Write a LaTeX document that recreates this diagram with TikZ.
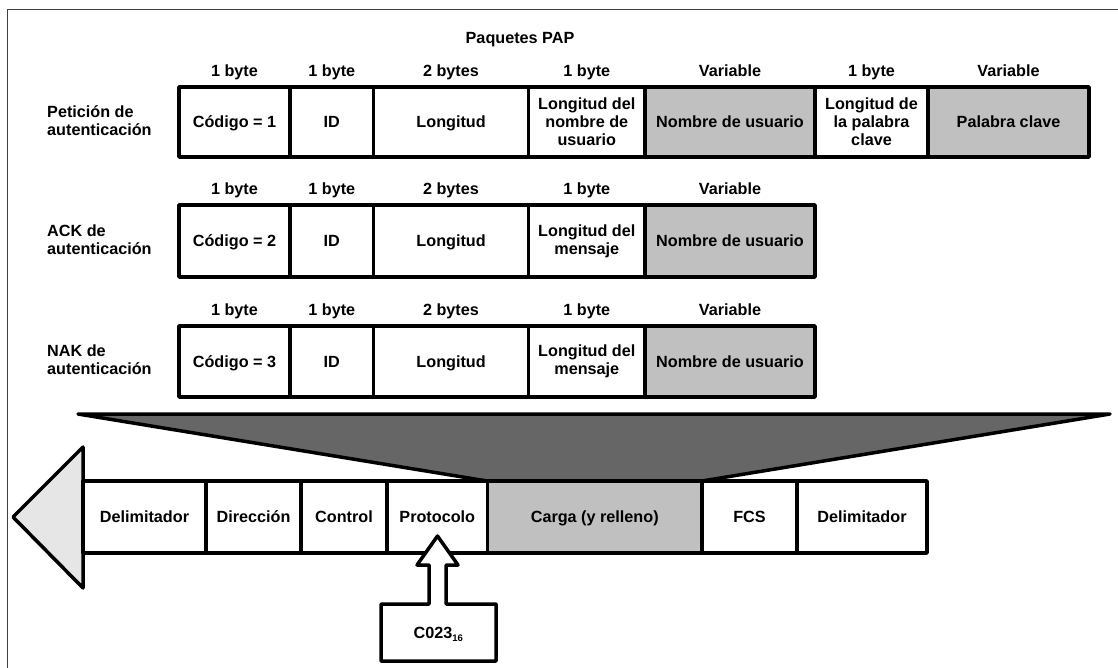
\documentclass[tikz,border=0pt]{standalone}
\usepackage{fontspec}
\setmainfont{Liberation Sans}
\begin{document}
\begin{tikzpicture}[x=1pt,y=-1pt,
  every node/.style={font=\fontsize{16.2}{18}\selectfont\bfseries},
  fieldbox/.style={draw=black,line width=3.5pt,fill=white,inner sep=0pt,align=center,line join=round},
  oneline/.style={text height=11.6pt,text depth=0pt},
  varfield/.style={fieldbox,fill=payload},
  lbl/.style={inner sep=0pt,oneline},
  rowlbl/.style={anchor=west,align=left,inner sep=0pt},
  outline/.style={draw=black,line width=3.5pt,line join=round}]
\definecolor{payload}{HTML}{C0C0C0}
\definecolor{funnel}{HTML}{666666}
\definecolor{headfill}{HTML}{E6E6E6}
\definecolor{framecol}{HTML}{404040}
\useasboundingbox (0,0) rectangle (1118,668);
% outer frame (left and top edges)
\draw[framecol,line width=1pt] (7,668) -- (7,10) -- (1118,10);

% field box: name, left, right, top, bottom, style, text
\newcommand\fieldbox[7]{%
  \node[#6,minimum width={#3-#2},minimum height={#5-#4}] (#1) at ({(#2+#3)/2},{(#4+#5)/2}) {#7};}

\node[lbl] (title) at (520,38) {Paquetes PAP};

% ---- Petición de autenticación
\node[rowlbl] (reqname) at (47,121) {Petición de\\autenticación};
\fieldbox{reqA}{179}{290}{87}{157}{fieldbox,oneline}{Código = 1}
\fieldbox{reqB}{290}{373.6}{87}{157}{fieldbox,oneline}{ID}
\fieldbox{reqC}{373.6}{528.6}{87}{157}{fieldbox,oneline}{Longitud}
\fieldbox{reqD}{528.6}{645}{87}{157}{fieldbox}{Longitud del\\nombre de\\usuario}
\fieldbox{reqE}{645}{815}{87}{157}{varfield,oneline}{Nombre de usuario}
\fieldbox{reqF}{815}{928}{87}{157}{fieldbox}{Longitud de\\la palabra\\clave}
\fieldbox{reqG}{928}{1089}{87}{157}{varfield,oneline}{Palabra clave}
\node[lbl] (reqsA) at (234.5,71) {1 byte};
\node[lbl] (reqsB) at (331.8,71) {1 byte};
\node[lbl] (reqsC) at (451,71) {2 bytes};
\node[lbl] (reqsD) at (586.8,71) {1 byte};
\node[lbl] (reqsE) at (730,71) {Variable};
\node[lbl] (reqsF) at (871.5,71) {1 byte};
\node[lbl] (reqsG) at (1008.5,71) {Variable};

% ---- ACK de autenticación
\node[rowlbl] (ackname) at (47,240) {ACK de\\autenticación};
\fieldbox{ackA}{179}{290}{205}{277}{fieldbox,oneline}{Código = 2}
\fieldbox{ackB}{290}{373.6}{205}{277}{fieldbox,oneline}{ID}
\fieldbox{ackC}{373.6}{528.6}{205}{277}{fieldbox,oneline}{Longitud}
\fieldbox{ackD}{528.6}{645}{205}{277}{fieldbox}{Longitud del\\mensaje}
\fieldbox{ackE}{645}{815}{205}{277}{varfield,oneline}{Nombre de usuario}
\node[lbl] (acksA) at (234.5,189) {1 byte};
\node[lbl] (acksB) at (331.8,189) {1 byte};
\node[lbl] (acksC) at (451,189) {2 bytes};
\node[lbl] (acksD) at (586.8,189) {1 byte};
\node[lbl] (acksE) at (730,189) {Variable};

% ---- NAK de autenticación
\node[rowlbl] (nakname) at (47,360) {NAK de\\autenticación};
\fieldbox{nakA}{179}{290}{326}{397}{fieldbox,oneline}{Código = 3}
\fieldbox{nakB}{290}{373.6}{326}{397}{fieldbox,oneline}{ID}
\fieldbox{nakC}{373.6}{528.6}{326}{397}{fieldbox,oneline}{Longitud}
\fieldbox{nakD}{528.6}{645}{326}{397}{fieldbox}{Longitud del\\mensaje}
\fieldbox{nakE}{645}{815}{326}{397}{varfield,oneline}{Nombre de usuario}
\node[lbl] (naksA) at (234.5,310) {1 byte};
\node[lbl] (naksB) at (331.8,310) {1 byte};
\node[lbl] (naksC) at (451,310) {2 bytes};
\node[lbl] (naksD) at (586.8,310) {1 byte};
\node[lbl] (naksE) at (730,310) {Variable};

% ---- funnel into the frame payload
\coordinate (fl) at (78,414);
\coordinate (fr) at (1110,414);
\filldraw[outline,fill=funnel,line cap=round] (fl) -- (fr) -- (702,481) -- (487,481) -- cycle;

% ---- frame drawn as a leftward arrow
\coordinate (tip) at (13,517);
\filldraw[outline,fill=headfill] (tip) -- (83,447) -- (83,588) -- cycle;
\fieldbox{f1}{83}{206}{481}{553}{fieldbox,oneline}{Delimitador}
\fieldbox{f2}{206}{301}{481}{553}{fieldbox,oneline}{Dirección}
\fieldbox{f3}{301}{387}{481}{553}{fieldbox,oneline}{Control}
\fieldbox{f4}{387}{487.5}{481}{553}{fieldbox,oneline}{Protocolo}
\fieldbox{f5}{487.5}{702}{481}{553}{varfield,oneline}{Carga (y relleno)}
\fieldbox{f6}{702}{797}{481}{553}{fieldbox,oneline}{FCS}
\fieldbox{f7}{797}{927}{481}{553}{fieldbox,oneline}{Delimitador}

% ---- protocol value callout pointing up into the Protocolo field
\filldraw[outline,fill=white] (381,604) -- (429,604) -- (429,565) -- (417,565) -- (437.5,536)
  -- (458,565) -- (446,565) -- (446,604) -- (496,604) -- (496,661) -- (381,661) -- cycle;
\node[oneline,inner sep=0pt] (proto) at (438.5,633) {C023\textsubscript{\fontsize{9.5}{10}\selectfont 16}};
\end{tikzpicture}
\end{document}
